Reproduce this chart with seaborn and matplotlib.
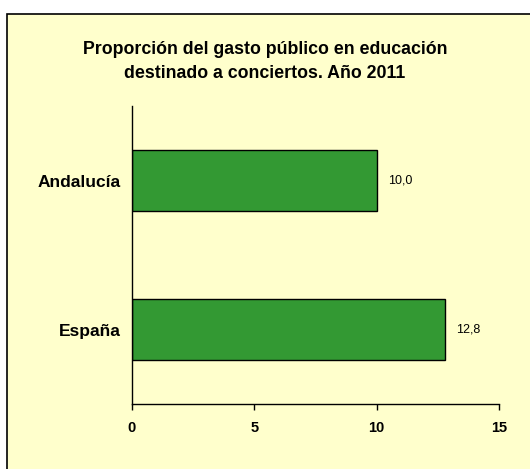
import seaborn as sns
import matplotlib.pyplot as plt
import pandas as pd
from matplotlib.patches import Rectangle

regions = ['Andalucía', 'España']
values = [10.0, 12.8]
value_labels = ['10,0', '12,8']
x_ticks = [0, 5, 10, 15]

df = pd.DataFrame({'region': regions, 'valor': values})

sns.set_style('white')
plt.rcParams['font.family'] = ['Liberation Sans', 'DejaVu Sans']
plt.rcParams['text.color'] = 'black'
plt.rcParams['xtick.color'] = 'black'
plt.rcParams['ytick.color'] = 'black'

W, H = 530, 469
fig = plt.figure(figsize=(W / 100, H / 100), dpi=100)
fig.patch.set_facecolor('white')

# yellow panel with black border (only left/top inside the image)
panel = Rectangle((7 / W, -0.1), 1.2, 1.1 - 14 / H, transform=fig.transFigure,
                  facecolor='#FFFFCC', edgecolor='black', linewidth=1.2, zorder=-10)
fig.add_artist(panel)

ax = fig.add_axes([132 / W, 1 - 404 / H, (499 - 132) / W, (404 - 106) / H])
ax.set_facecolor('none')

sns.barplot(data=df, x='valor', y='region', color='#339933', saturation=1,
            edgecolor='black', linewidth=1, width=0.41, ax=ax)

for i, (v, lab) in enumerate(zip(values, value_labels)):
    ax.text(v + 0.45, i, lab, va='center', ha='left', fontsize=9)

ax.set_xlim(0, 15)
ax.set_ylim(1.5, -0.5)
ax.set_xticks(x_ticks)
ax.set_xticklabels([str(t) for t in x_ticks], fontweight='bold', fontsize=10.5)
ax.set_yticks(range(len(regions)))
ax.set_yticklabels(regions, fontweight='bold', fontsize=12.5)
ax.tick_params(axis='x', length=4, width=1, direction='out', pad=8, bottom=True)
ax.tick_params(axis='y', length=0, pad=8)
ax.set_xlabel('')
ax.set_ylabel('')
for s in ['top', 'right']:
    ax.spines[s].set_visible(False)
for s in ['left', 'bottom']:
    ax.spines[s].set_color('black')
    ax.spines[s].set_linewidth(1)

fig.text(0.5, 1 - 61.5 / H, 'Proporción del gasto público en educación\ndestinado a conciertos. Año 2011',
         ha='center', va='center', fontsize=12.8, fontweight='bold', linespacing=1.6)

fig.savefig('out.png', dpi=100)
